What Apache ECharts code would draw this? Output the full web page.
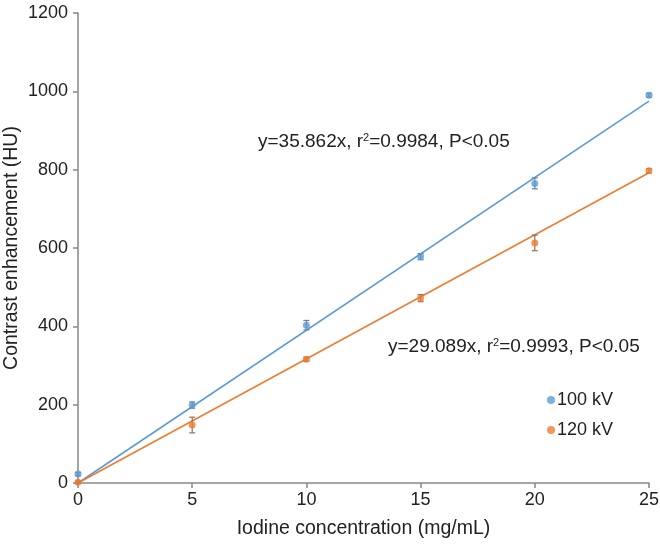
<!DOCTYPE html>
<html><head><meta charset="utf-8">
<script src="https://cdn.jsdelivr.net/npm/echarts@6/dist/echarts.min.js"></script>
<style>html,body{margin:0;padding:0;background:#fff}#c{width:660px;height:544px}</style>
</head><body><div id="c"></div>
<script>
const concentrations = [0, 5, 10, 15, 20, 25];
const kv100Mean = [23, 199, 403, 578, 765, 990];
const kv100Err = [4, 8, 12, 8, 14, 5];
const kv120Mean = [2, 148, 316, 472, 613, 797];
const kv120Err = [3, 20, 5, 9, 20, 5];
const fit100 = [[0, 0], [25, 975]];
const fit120 = [[0, 0], [25, 792]];
const label100 = ['y=35.862x, r', '2', '=0.9984, P<0.05'];
const label120 = ['y=29.089x, r', '2', '=0.9993, P<0.05'];
const xTitle = 'Iodine concentration (mg/mL)';
const yTitle = 'Contrast enhancement (HU)';

const blue = '#5b9bd5', orange = '#ed7d31';
const font = 'Liberation Sans, Arial, Helvetica, sans-serif';

function pts(m){ return concentrations.map((x,i)=>[x,m[i]]); }
function errData(m,e){ return concentrations.map((x,i)=>[x,m[i]-e[i],m[i]+e[i]]); }
function errSeries(m,e,color){
  return {
    type:'custom', silent:true, z:3,
    data: errData(m,e),
    renderItem:function(params,api){
      const x=api.value(0);
      const lo=api.coord([x,api.value(1)]);
      const hi=api.coord([x,api.value(2)]);
      const w=3;
      return {type:'group',children:[
        {type:'line',shape:{x1:lo[0],y1:lo[1],x2:hi[0],y2:hi[1]},style:{stroke:color,lineWidth:1.2}},
        {type:'line',shape:{x1:lo[0]-w,y1:lo[1],x2:lo[0]+w,y2:lo[1]},style:{stroke:color,lineWidth:1.2}},
        {type:'line',shape:{x1:hi[0]-w,y1:hi[1],x2:hi[0]+w,y2:hi[1]},style:{stroke:color,lineWidth:1.2}}
      ]};
    }
  };
}
function richLabel(parts){ return '{a|'+parts[0]+'}{s|'+parts[1]+'}{a|'+parts[2]+'}'; }
const richStyle = {
  a:{fontSize:19,fontFamily:font,fill:'#222',lineHeight:22},
  s:{fontSize:11,fontFamily:font,fill:'#222',lineHeight:22,padding:[0,0,9,0]}
};

const chart = echarts.init(document.getElementById('c'));
chart.setOption({
  animation:false,
  backgroundColor:'#fff',
  textStyle:{fontFamily:font},
  grid:{left:78,right:11,top:13,bottom:61,containLabel:false,outerBoundsMode:'none'},
  xAxis:{
    type:'value',min:0,max:25,interval:5,
    name:xTitle,nameLocation:'middle',nameGap:36,
    nameTextStyle:{fontSize:19.5,color:'#222',fontFamily:font},
    axisLine:{show:true,lineStyle:{color:'#888',width:1.5}},
    axisTick:{show:true,length:5,lineStyle:{color:'#888',width:1.5}},
    axisLabel:{fontSize:18,color:'#222',margin:8,fontFamily:font},
    splitLine:{show:false}
  },
  yAxis:{
    type:'value',min:0,max:1200,interval:200,
    axisLine:{show:true,lineStyle:{color:'#888',width:1.5}},
    axisTick:{show:true,length:5,lineStyle:{color:'#888',width:1.5}},
    axisLabel:{fontSize:18,color:'#222',margin:10,fontFamily:font,formatter:function(v){return String(v);}},
    splitLine:{show:false}
  },
  legend:{
    orient:'vertical',left:542,top:386,itemGap:12,itemWidth:8,itemHeight:8,
    icon:'circle',textStyle:{fontSize:18,color:'#222',fontFamily:font,padding:[0,0,0,-3]},
    data:['100 kV','120 kV']
  },
  graphic:[
    {type:'text',x:12,y:248,rotation:Math.PI/2,
     style:{text:yTitle,font:'19.5px '+font,fill:'#222',align:'center',verticalAlign:'middle'}},
    {type:'text',left:258,top:132,style:{text:richLabel(label100),rich:richStyle}},
    {type:'text',left:388,top:337,style:{text:richLabel(label120),rich:richStyle}}
  ],
  series:[
    {name:'fit100',type:'line',data:fit100,symbol:'none',lineStyle:{color:blue,width:1.6},z:2,silent:true},
    {name:'fit120',type:'line',data:fit120,symbol:'none',lineStyle:{color:orange,width:1.6},z:2,silent:true},
    errSeries(kv100Mean,kv100Err,'#6b7f95'),
    errSeries(kv120Mean,kv120Err,'#8a7060'),
    {name:'100 kV',type:'scatter',data:pts(kv100Mean),symbol:'circle',symbolSize:7,itemStyle:{color:blue},z:4},
    {name:'120 kV',type:'scatter',data:pts(kv120Mean),symbol:'circle',symbolSize:7,itemStyle:{color:orange},z:4}
  ]
});
</script></body></html>
